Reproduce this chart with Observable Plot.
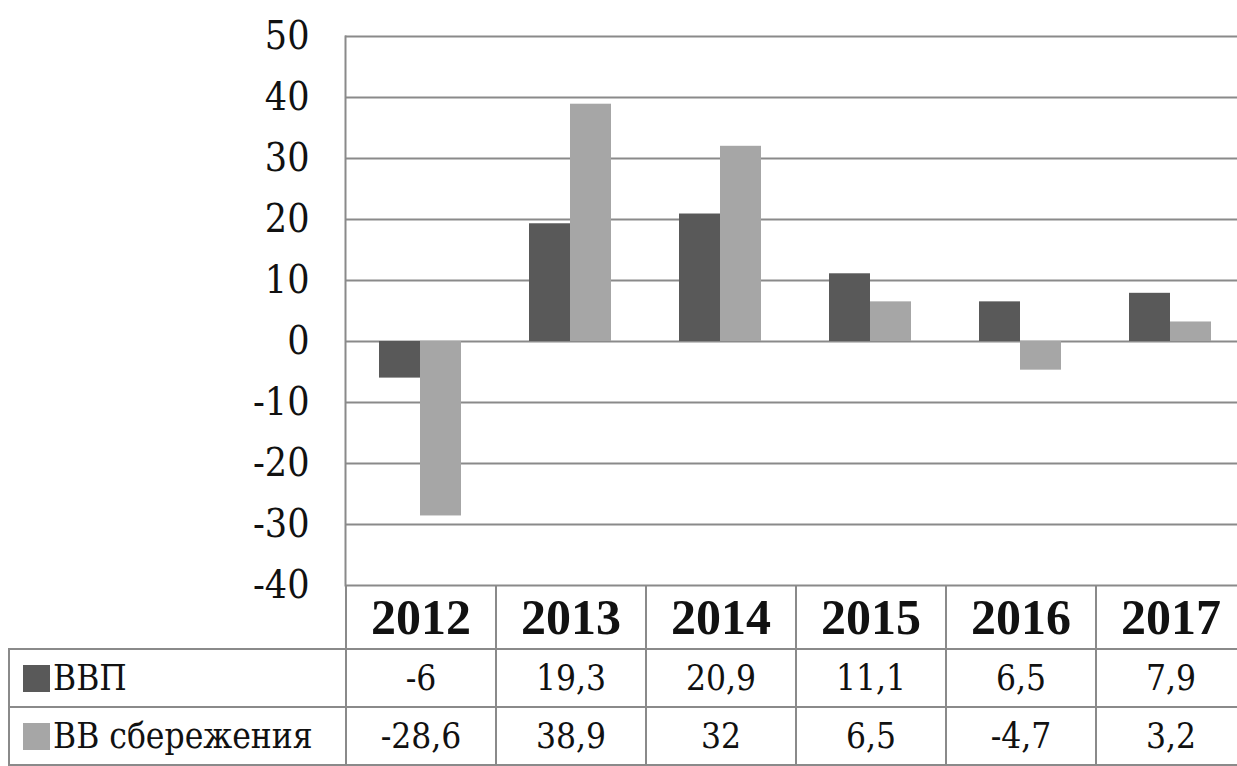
<!DOCTYPE html>
<html>
<head>
<meta charset="utf-8">
<script src="https://cdn.jsdelivr.net/npm/d3@7"></script>
<script src="https://cdn.jsdelivr.net/npm/@observablehq/plot@0.6"></script>
<style>
  html, body { margin: 0; padding: 0; background: #fff; overflow: hidden; }
  #wrap { position: relative; width: 1237px; height: 766px; overflow: hidden; background: #fff; }
  #chart svg { display: block; }
  #tbl { position: absolute; left: 8px; top: 585px; border-collapse: collapse; table-layout: fixed; color: #111; }
  #tbl td { padding: 0; text-align: center; vertical-align: middle; border: 2px solid #8a8a8a; white-space: nowrap; overflow: hidden; }
  #tbl tr.yr td { border-top: none; font-family: "Liberation Serif", serif; font-weight: bold; font-size: 50px; height: 63px; }
  #tbl tr.yr td.blank { border-left: none; }
  #tbl tr.val td { height: 56px; font-family: "DejaVu Serif Condensed", "DejaVu Serif", serif; font-size: 35px; }
  #tbl td.lab { text-align: left; padding-left: 13px; }
  .sw { display: inline-block; width: 27px; height: 27px; margin-right: 3px; vertical-align: -2px; }
</style>
</head>
<body>
<div id="wrap">
  <div id="chart"></div>
  <table id="tbl"></table>
</div>
<script>
// ---- data ----
const years = ["2012", "2013", "2014", "2015", "2016", "2017"];
const seriesNames = ["ВВП", "ВВ сбережения"];
const vvp = [-6, 19.3, 20.9, 11.1, 6.5, 7.9];
const savings = [-28.6, 38.9, 32, 6.5, -4.7, 3.2];
const vvpLabels = ["-6", "19,3", "20,9", "11,1", "6,5", "7,9"];
const savingsLabels = ["-28,6", "38,9", "32", "6,5", "-4,7", "3,2"];
const yTicks = [-40, -30, -20, -10, 0, 10, 20, 30, 40, 50];
const colors = ["#595959", "#a6a6a6"];

const data = [];
years.forEach((y, i) => {
  data.push({year: y, series: seriesNames[0], value: vvp[i]});
  data.push({year: y, series: seriesNames[1], value: savings[i]});
});

// regular Liberation Serif falls back to a sans face at large sizes in this environment,
// so a condensed DejaVu serif is used for the regular-weight texts
const font = '"DejaVu Serif Condensed", "DejaVu Serif", serif';

const plot = Plot.plot({
  width: 1237,
  height: 586,
  marginLeft: 345,
  marginRight: -8,
  marginTop: 36,
  marginBottom: 1,
  style: {fontFamily: font, background: "#fff", overflow: "visible"},
  fx: {domain: years, padding: 0, axis: null},
  x: {domain: seriesNames, paddingInner: 0, paddingOuter: 0.79, axis: null},
  y: {domain: [-40, 50], axis: null},
  color: {domain: seriesNames, range: colors},
  marks: [
    Plot.gridY(yTicks, {stroke: "#8a8a8a", strokeOpacity: 1, strokeWidth: 2}),
    Plot.barY(data, {fx: "year", x: "series", y: "value", fill: "series"}),
    Plot.axisY(yTicks, {anchor: "left", label: null, tickSize: 0, tickPadding: 36, fontSize: 39, fill: "#111",
                        fontFamily: font, tickFormat: d => `${d}`}),
    Plot.frame({anchor: "left", facetAnchor: "left", stroke: "#8a8a8a", strokeWidth: 2})
  ]
});
document.getElementById("chart").appendChild(plot);

// ---- data table below the plot, aligned to the fx scale ----
const fx = plot.scale("fx");
const step = fx.step || fx.bandwidth || 150;
const leftW = fx.range[0] - 8;
const tbl = document.getElementById("tbl");
let html = '<colgroup><col style="width:' + leftW + 'px">';
years.forEach(() => { html += '<col style="width:' + step + 'px">'; });
html += '</colgroup>';
html += '<tr class="yr"><td class="blank"></td>' + years.map(y => '<td>' + y + '</td>').join('') + '</tr>';
html += '<tr class="val"><td class="lab"><span class="sw" style="background:' + colors[0] + '"></span>' + seriesNames[0] + '</td>' +
        vvpLabels.map(v => '<td>' + v + '</td>').join('') + '</tr>';
html += '<tr class="val"><td class="lab"><span class="sw" style="background:' + colors[1] + '"></span>' + seriesNames[1] + '</td>' +
        savingsLabels.map(v => '<td>' + v + '</td>').join('') + '</tr>';
tbl.innerHTML = html;
tbl.style.width = (leftW + step * years.length) + 'px';
</script>
</body>
</html>
